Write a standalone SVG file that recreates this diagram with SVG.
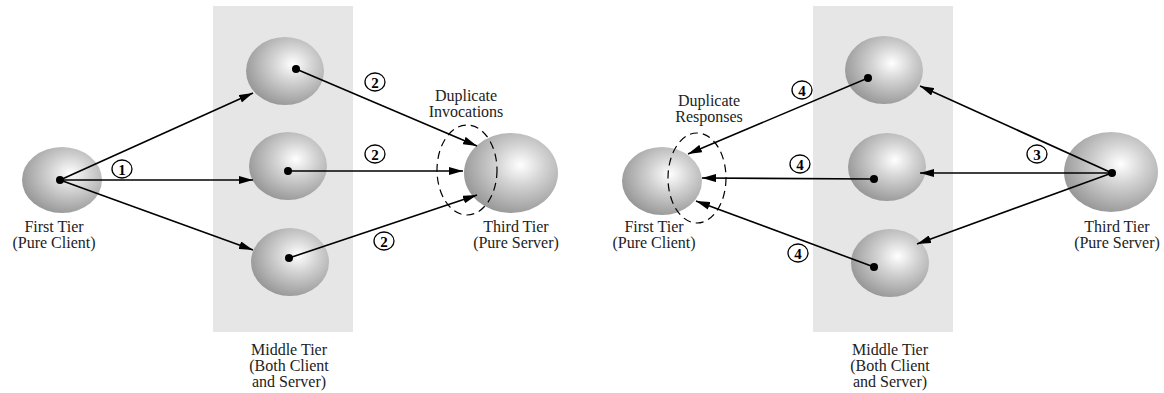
<svg xmlns="http://www.w3.org/2000/svg" width="1164" height="393" viewBox="0 0 1164 393">
<defs>
<radialGradient id="sph" cx="0.6" cy="0.4" r="0.65" fx="0.6" fy="0.4">
<stop offset="0" stop-color="#ffffff"/>
<stop offset="0.4" stop-color="#d2d2d2"/>
<stop offset="1" stop-color="#959595"/>
</radialGradient>
<marker id="ah" viewBox="0 0 14 8" refX="14" refY="4" markerWidth="14" markerHeight="8" markerUnits="userSpaceOnUse" orient="auto">
<path d="M0,0 L14,4 L0,8 Z" fill="#000"/>
</marker>
</defs>
<style>
.tier{fill:#e6e6e6}
.sp{fill:url(#sph)}
.dot{fill:#000}
.t{font-family:"Liberation Serif","Times New Roman",serif;font-size:16px;fill:#222;text-anchor:middle}
.num{font-family:"Liberation Serif","Times New Roman",serif;font-size:15px;font-weight:bold;fill:#000;text-anchor:middle}
.nc{fill:#fff;stroke:#000;stroke-width:1.3}
.ln{stroke:#000;stroke-width:1.6;fill:none;marker-end:url(#ah)}
.dash{fill:none;stroke:#000;stroke-width:1.2;stroke-dasharray:8,5}
</style>

<rect class="tier" x="213" y="6" width="140" height="326"/>
<rect class="tier" x="813" y="6" width="140" height="326"/>

<g id="left-first">
<ellipse class="sp" cx="62" cy="180" rx="40" ry="33"/>
<circle class="dot" cx="60" cy="180" r="4"/>
<text class="t" x="54" y="232">First Tier</text>
<text class="t" x="54" y="248">(Pure Client)</text>
</g>
<g id="left-mid1">
<ellipse class="sp" cx="285" cy="71" rx="39" ry="34"/>
<circle class="dot" cx="296" cy="69" r="4"/>
</g>
<g id="left-mid2">
<ellipse class="sp" cx="288" cy="166" rx="39" ry="34"/>
<circle class="dot" cx="288" cy="171" r="4"/>
</g>
<g id="left-mid3">
<ellipse class="sp" cx="290" cy="262" rx="39" ry="34"/>
<circle class="dot" cx="289" cy="258" r="4"/>
</g>
<g id="left-third">
<ellipse class="sp" cx="511" cy="173" rx="47" ry="40"/>
<text class="t" x="516" y="232">Third Tier</text>
<text class="t" x="516" y="248">(Pure Server)</text>
</g>
<g id="left-middle-label">
<text class="t" x="289" y="355">Middle Tier</text>
<text class="t" x="289" y="371">(Both Client</text>
<text class="t" x="289" y="387">and Server)</text>
</g>
<g id="left-dup">
<ellipse class="dash" cx="467" cy="170" rx="30" ry="45"/>
<text class="t" x="466" y="101">Duplicate</text>
<text class="t" x="466" y="117">Invocations</text>
</g>

<g id="right-first">
<ellipse class="sp" cx="662" cy="181" rx="40" ry="34"/>
<text class="t" x="654" y="232">First Tier</text>
<text class="t" x="654" y="248">(Pure Client)</text>
</g>
<g id="right-mid1">
<ellipse class="sp" cx="884" cy="70" rx="39" ry="34"/>
<circle class="dot" cx="868" cy="78" r="4"/>
</g>
<g id="right-mid2">
<ellipse class="sp" cx="887" cy="167" rx="39" ry="34"/>
<circle class="dot" cx="874" cy="179" r="4"/>
</g>
<g id="right-mid3">
<ellipse class="sp" cx="890" cy="263" rx="39" ry="34"/>
<circle class="dot" cx="874" cy="267" r="4"/>
</g>
<g id="right-third">
<ellipse class="sp" cx="1111" cy="172" rx="47" ry="40"/>
<circle class="dot" cx="1112" cy="173" r="4"/>
<text class="t" x="1117" y="232">Third Tier</text>
<text class="t" x="1117" y="248">(Pure Server)</text>
</g>
<g id="right-middle-label">
<text class="t" x="890" y="355">Middle Tier</text>
<text class="t" x="890" y="371">(Both Client</text>
<text class="t" x="890" y="387">and Server)</text>
</g>
<g id="right-dup">
<ellipse class="dash" cx="697" cy="178" rx="29" ry="45"/>
<text class="t" x="709" y="106">Duplicate</text>
<text class="t" x="709" y="122">Responses</text>
</g>

<g id="connectors">
<line class="ln" x1="60" y1="180" x2="253" y2="93"/>
<line class="ln" x1="60" y1="180" x2="253" y2="180"/>
<line class="ln" x1="60" y1="180" x2="253" y2="250"/>
<line class="ln" x1="296" y1="69" x2="477" y2="146"/>
<line class="ln" x1="288" y1="171" x2="463" y2="171"/>
<line class="ln" x1="289" y1="258" x2="477" y2="195"/>
<line class="ln" x1="1112" y1="173" x2="920" y2="86"/>
<line class="ln" x1="1112" y1="173" x2="920" y2="173"/>
<line class="ln" x1="1112" y1="173" x2="917" y2="244"/>
<line class="ln" x1="868" y1="78" x2="688" y2="154"/>
<line class="ln" x1="874" y1="179" x2="702" y2="178"/>
<line class="ln" x1="874" y1="267" x2="696" y2="201"/>
</g>

<g id="step-labels">
<ellipse class="nc" cx="122" cy="169" rx="10" ry="9"/><text class="num" x="122" y="174.5">1</text>
<ellipse class="nc" cx="375" cy="82" rx="10" ry="9"/><text class="num" x="375" y="87.5">2</text>
<ellipse class="nc" cx="375" cy="154" rx="10" ry="9"/><text class="num" x="375" y="159.5">2</text>
<ellipse class="nc" cx="384" cy="241" rx="10" ry="9"/><text class="num" x="384" y="246.5">2</text>
<ellipse class="nc" cx="1037" cy="154" rx="10" ry="9"/><text class="num" x="1037" y="159.5">3</text>
<ellipse class="nc" cx="802" cy="90" rx="10" ry="9"/><text class="num" x="802" y="95.5">4</text>
<ellipse class="nc" cx="800" cy="164" rx="10" ry="9"/><text class="num" x="800" y="169.5">4</text>
<ellipse class="nc" cx="798" cy="253" rx="10" ry="9"/><text class="num" x="798" y="258.5">4</text>
</g>
</svg>
